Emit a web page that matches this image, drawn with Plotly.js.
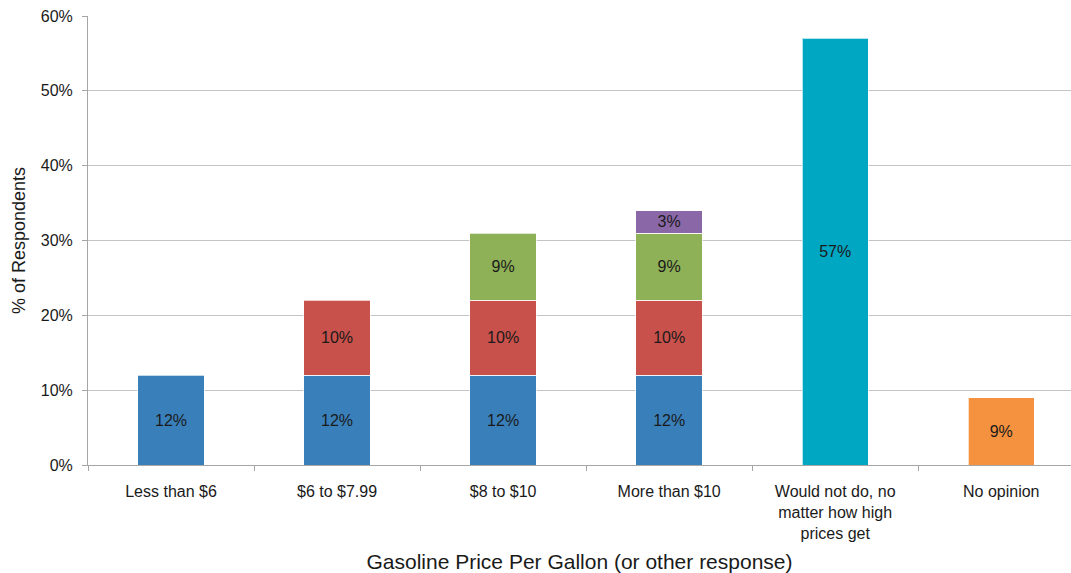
<!DOCTYPE html>
<html>
<head>
<meta charset="utf-8">
<script src="https://cdn.plot.ly/plotly-3.0.1.min.js"></script>
<style>
  html, body { margin: 0; padding: 0; background: #fff; }
  #chart { width: 1071px; height: 573px; }
</style>
</head>
<body>
<div id="chart"></div>
<script>
// Response categories (x axis)
const categories = [
  "Less than $6",
  "$6 to $7.99",
  "$8 to $10",
  "More than $10",
  "Would not do, no<br>matter how high<br>prices get",
  "No opinion"
];

// Stacked segments, % of respondents
const segLessThan6 = [12, 12, 12, 12, null, null];
const seg6to799    = [null, 10, 10, 10, null, null];
const seg8to10     = [null, null, 9, 9, null, null];
const segOver10    = [null, null, null, 3, null, null];
const segWouldNot  = [null, null, null, null, 57, null];
const segNoOpinion = [null, null, null, null, null, 9];

const yTicks = [0, 10, 20, 30, 40, 50, 60];
const yTickLabels = ["0%", "10%", "20%", "30%", "40%", "50%", "60%"];

const colors = ["#3980ba", "#c8514b", "#8eb057", "#8a68a8", "#00a7c3", "#f5923f"];
const seriesList = [segLessThan6, seg6to799, seg8to10, segOver10, segWouldNot, segNoOpinion];

const font = "Liberation Sans, Arial, sans-serif";

const traces = seriesList.map((vals, i) => ({
  type: "bar",
  x: categories,
  y: vals,
  width: 0.4,
  marker: { color: colors[i], line: { color: "rgba(255,255,255,0.7)", width: 1 } },
  text: vals.map(v => (v == null ? "" : v + "%")),
  texttemplate: "%{text}",
  textposition: "inside",
  insidetextanchor: "middle",
  textangle: 0,
  textfont: { family: font, size: 16, color: "#1a1a1a" },
  hoverinfo: "skip",
  showlegend: false
}));

const layout = {
  width: 1071,
  height: 573,
  margin: { l: 88, r: 0, t: 16, b: 108, pad: 0 },
  paper_bgcolor: "#ffffff",
  plot_bgcolor: "#ffffff",
  barmode: "stack",
  font: { family: font, color: "#1a1a1a" },
  uniformtext: { mode: "show", minsize: 16 },
  xaxis: {
    type: "category",
    range: [-0.5, 5.42],
    showline: true,
    linecolor: "#a6a6a6",
    linewidth: 1,
    ticks: "outside",
    tickson: "boundaries",
    ticklen: 5,
    tickcolor: "#a6a6a6",
    tickfont: { family: font, size: 16, color: "#1a1a1a" },
    ticklabelstandoff: 12,
    showgrid: false,
    title: {
      text: "Gasoline Price Per Gallon (or other response)",
      font: { family: font, size: 21, color: "#1a1a1a" },
      standoff: 14
    }
  },
  yaxis: {
    range: [0, 60],
    tickvals: yTicks,
    ticktext: yTickLabels,
    showline: true,
    linecolor: "#a6a6a6",
    linewidth: 1,
    ticks: "outside",
    ticklen: 5,
    tickcolor: "#a6a6a6",
    tickfont: { family: font, size: 16, color: "#1a1a1a" },
    ticklabelstandoff: 6,
    showgrid: true,
    gridcolor: "#c4c4c4",
    gridwidth: 1,
    zeroline: false,
    title: {
      text: "% of Respondents",
      font: { family: font, size: 18, color: "#1a1a1a" },
      standoff: 10
    }
  }
};

Plotly.newPlot("chart", traces, layout, { staticPlot: true, displayModeBar: false });
</script>
</body>
</html>
